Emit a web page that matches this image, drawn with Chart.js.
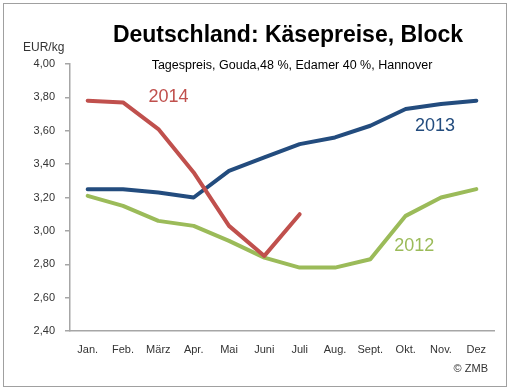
<!DOCTYPE html>
<html>
<head>
<meta charset="utf-8">
<script src="https://cdn.jsdelivr.net/npm/chart.js@4"></script>
<style>
  html, body { margin: 0; padding: 0; background: #ffffff; }
  #wrap { position: relative; width: 510px; height: 390px; }
  #frame { position: absolute; left: 3px; top: 3px; width: 502px; height: 382px; border: 1px solid #a0a0a0; box-sizing: content-box; }
  canvas { position: absolute; left: 0; top: 0; }
</style>
</head>
<body>
<div id="wrap">
  <div id="frame"></div>
  <canvas id="c" width="510" height="390"></canvas>
</div>
<script>
// ---- data ----
const months = ["Jan.", "Feb.", "März", "Apr.", "Mai", "Juni", "Juli", "Aug.", "Sept.", "Okt.", "Nov.", "Dez"];
const values2014 = [3.78, 3.77, 3.61, 3.35, 3.03, 2.85, 3.10];
const values2013 = [3.25, 3.25, 3.23, 3.20, 3.36, 3.44, 3.52, 3.56, 3.63, 3.73, 3.76, 3.78];
const values2012 = [3.21, 3.15, 3.06, 3.03, 2.94, 2.84, 2.78, 2.78, 2.83, 3.09, 3.20, 3.25];
const yTicks = [2.40, 2.60, 2.80, 3.00, 3.20, 3.40, 3.60, 3.80, 4.00];
const seriesNames = ["2014", "2013", "2012"];

const titleText = "Deutschland: Käsepreise, Block";
const subtitleText = "Tagespreis, Gouda,48 %, Edamer 40 %, Hannover";
const unitText = "EUR/kg";
const sourceText = "© ZMB";

const colors = { "2014": "#C0504D", "2013": "#234C7E", "2012": "#9BBB59" };
// series label anchors (category index, value) in data space
const labelAnchors = { "2014": [2.29, 3.80], "2013": [9.83, 3.63], "2012": [9.24, 2.91] };

const FONT = "'Liberation Sans', Arial, sans-serif";

const textPlugin = {
  id: 'texts',
  afterDraw(chart) {
    const ctx = chart.ctx;
    const xs = chart.scales.x, ys = chart.scales.y;
    ctx.save();
    ctx.textBaseline = 'middle';
    // title
    ctx.fillStyle = '#000000';
    ctx.textAlign = 'center';
    ctx.font = "bold 23px " + FONT;
    ctx.fillText(titleText, 288, 36);
    ctx.font = "12.5px " + FONT;
    ctx.fillText(subtitleText, 292, 66);
    // unit
    ctx.fillStyle = '#333333';
    ctx.textAlign = 'left';
    ctx.font = "12px " + FONT;
    ctx.fillText(unitText, 23, 48);
    // source
    ctx.textAlign = 'right';
    ctx.font = "11px " + FONT;
    ctx.fillText(sourceText, 488, 369);
    // series labels
    ctx.textAlign = 'center';
    ctx.font = "18px " + FONT;
    seriesNames.forEach(n => {
      const a = labelAnchors[n];
      ctx.fillStyle = colors[n];
      ctx.fillText(n, xs.getPixelForValue(a[0]), ys.getPixelForValue(a[1]));
    });
    ctx.restore();
  }
};

const mk = (name, data, order) => ({
  label: name,
  data: data,
  borderColor: colors[name],
  backgroundColor: colors[name],
  borderWidth: 4,
  pointRadius: 0,
  tension: 0,
  fill: false,
  order: order,
  borderCapStyle: 'round',
  borderJoinStyle: 'round'
});

new Chart(document.getElementById('c'), {
  type: 'line',
  data: {
    labels: months,
    datasets: [mk("2014", values2014, 0), mk("2013", values2013, 1), mk("2012", values2012, 2)]
  },
  options: {
    responsive: false,
    animation: false,
    devicePixelRatio: 1,
    layout: { padding: { top: 64, right: 16, bottom: 0, left: 0 } },
    plugins: { legend: { display: false }, tooltip: { enabled: false }, title: { display: false } },
    scales: {
      x: {
        offset: true,
        grid: { display: false, drawTicks: false },
        border: { display: true, color: '#a6a6a6', width: 1.5 },
        ticks: { color: '#333333', font: { family: FONT, size: 11 }, padding: 12, maxRotation: 0, autoSkip: false },
        afterFit(s) { s.height = 59; }
      },
      y: {
        min: 2.4, max: 4.0,
        afterBuildTicks(s) { s.ticks = yTicks.map(v => ({ value: v })); },
        grid: { display: true, drawOnChartArea: false, drawTicks: true, tickLength: 5, color: '#a6a6a6', lineWidth: 1.5 },
        border: { display: true, color: '#a6a6a6', width: 1.5 },
        ticks: {
          color: '#333333', font: { family: FONT, size: 11 }, padding: 10,
          callback: v => Number(v).toFixed(2).replace('.', ',')
        },
        afterFit(s) { s.width = 70; }
      }
    }
  },
  plugins: [textPlugin]
});
</script>
</body>
</html>
